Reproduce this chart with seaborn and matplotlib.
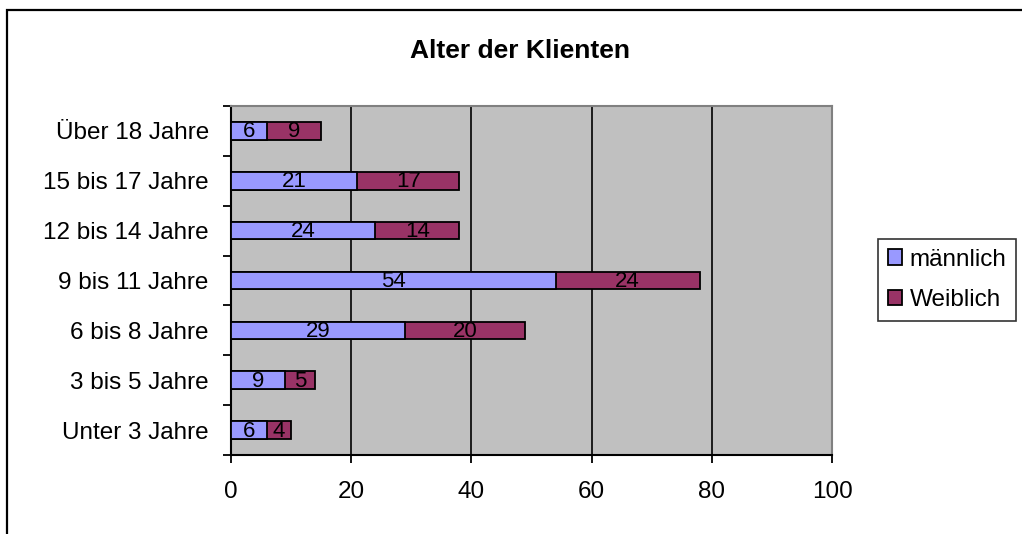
import matplotlib
matplotlib.use("Agg")
import matplotlib.pyplot as plt
from matplotlib.patches import Patch, Rectangle
from matplotlib.ticker import FixedLocator
import pandas as pd
import seaborn as sns

# Age groups (top to bottom) and client counts per gender
altersgruppen = ["Über 18 Jahre", "15 bis 17 Jahre", "12 bis 14 Jahre", "9 bis 11 Jahre",
                 "6 bis 8 Jahre", "3 bis 5 Jahre", "Unter 3 Jahre"]
maennlich = [6, 21, 24, 54, 29, 9, 6]
weiblich = [9, 17, 14, 24, 20, 5, 4]
x_ticks = [0, 20, 40, 60, 80, 100]

titel = "Alter der Klienten"
serien = ["männlich", "Weiblich"]
farben = ["#9999FF", "#993366"]

df = pd.DataFrame({
    "Altersgruppe": altersgruppen,
    "männlich": maennlich,
    "Weiblich": weiblich,
})
df["gesamt"] = df["männlich"] + df["Weiblich"]

plt.rcParams["font.family"] = ["Liberation Sans", "DejaVu Sans"]

fig = plt.figure(figsize=(10.22, 5.34), dpi=100)
ax = fig.add_axes([231 / 1022, 1 - 455 / 534, (832 - 231) / 1022, (455 - 106) / 534])
ax.set_facecolor("#C0C0C0")

# Stacked bars: full length in the second colour, first series drawn over it
sns.barplot(data=df, y="Altersgruppe", x="gesamt", color=farben[1], saturation=1,
            edgecolor="black", linewidth=1.3, width=0.35, ax=ax, zorder=3)
sns.barplot(data=df, y="Altersgruppe", x="männlich", color=farben[0], saturation=1,
            edgecolor="black", linewidth=1.3, width=0.35, ax=ax, zorder=4)

# Value labels centred in each segment
for i, (m, w) in enumerate(zip(df["männlich"], df["Weiblich"])):
    ax.text(m / 2, i + 0.02, str(m), ha="center", va="center", fontsize=16, color="black", zorder=5)
    ax.text(m + w / 2, i + 0.02, str(w), ha="center", va="center", fontsize=16, color="black", zorder=5)

ax.set_xlim(0, 100)
ax.set_ylim(len(altersgruppen) - 0.5, -0.5)
ax.set_xticks(x_ticks)
ax.set_xticklabels([str(t) for t in x_ticks])
ax.set_xlabel("")
ax.set_ylabel("")

# Vertical gridlines
ax.xaxis.grid(True, color="black", linewidth=1.2, zorder=1)
ax.yaxis.grid(False)
ax.set_axisbelow(True)

# Category ticks sit between the groups
ax.yaxis.set_minor_locator(FixedLocator([i - 0.5 for i in range(len(altersgruppen) + 1)]))
ax.tick_params(axis="y", which="major", length=0, pad=16, labelsize=17.5)
ax.tick_params(axis="y", which="minor", length=6, width=1.3, color="black", direction="out")
ax.tick_params(axis="x", which="major", length=6, width=1.3, color="black", direction="out",
               pad=13, labelsize=17.5)

for side in ("left", "bottom"):
    ax.spines[side].set_color("black")
    ax.spines[side].set_linewidth(1.5)
for side in ("top", "right"):
    ax.spines[side].set_color("#808080")
    ax.spines[side].set_linewidth(1.5)

fig.text(520.5 / 1022, 1 - 51 / 534, titel, ha="center", va="center",
         fontsize=19, fontweight="bold")

handles = [Patch(facecolor=c, edgecolor="black", linewidth=1.3) for c in farben]
leg = fig.legend(handles, serien, loc="upper left",
                 bbox_to_anchor=(878 / 1022, 1 - 239 / 534),
                 fontsize=17.5, frameon=True, fancybox=False, shadow=False,
                 handlelength=0.6, handleheight=0.6, handletextpad=0.3,
                 labelspacing=0.75, borderpad=0.4, borderaxespad=0)
leg.get_frame().set_edgecolor("black")
leg.get_frame().set_linewidth(1.2)

# Outer chart frame
fig.patches.append(Rectangle((7 / 1022, -0.1), 1.2, 1 - 10 / 534 + 0.1,
                             transform=fig.transFigure, fill=False,
                             edgecolor="black", linewidth=1.6))

fig.savefig("out.png", dpi=100)
